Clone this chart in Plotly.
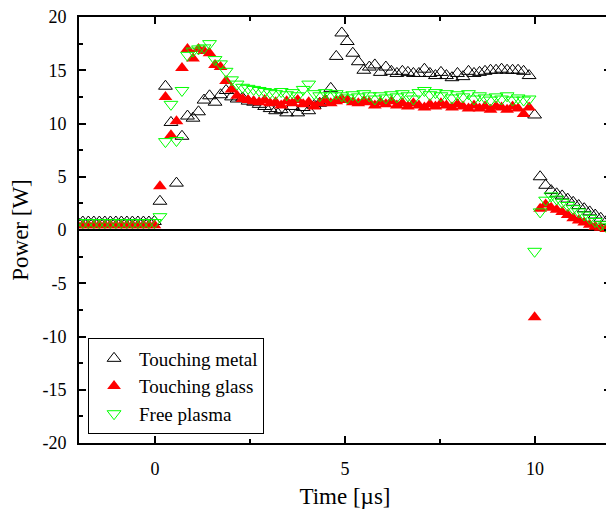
import plotly.graph_objects as go

# Time axis [µs]
time_us = [-2.045, -1.90, -1.755, -1.61, -1.465, -1.32, -1.175, -1.03, -0.885, -0.74,
           -0.595, -0.45, -0.305, -0.16, -0.015,
           0.13, 0.275, 0.42, 0.565, 0.71, 0.855, 1.00, 1.145, 1.29, 1.435,
           1.58, 1.725, 1.87, 2.015, 2.16, 2.305, 2.45, 2.595, 2.74, 2.885,
           3.03, 3.175, 3.32, 3.465, 3.61, 3.755, 3.90, 4.045, 4.19, 4.335,
           4.48, 4.625, 4.77, 4.915, 5.06, 5.205, 5.35, 5.495, 5.64, 5.785,
           5.93, 6.075, 6.22, 6.365, 6.51, 6.655, 6.80, 6.945, 7.09, 7.235,
           7.38, 7.525, 7.67, 7.815, 7.96, 8.105, 8.25, 8.395, 8.54, 8.685,
           8.83, 8.975, 9.12, 9.265, 9.41, 9.555, 9.70, 9.845, 9.99, 10.135,
           10.28, 10.425, 10.57, 10.715, 10.86, 11.005, 11.15, 11.295, 11.44, 11.585,
           11.73, 11.875]

touching_metal = [0.75, 0.75, 0.75, 0.75, 0.75, 0.75, 0.75, 0.75, 0.75, 0.75,
                  0.75, 0.75, 0.75, 0.75, 0.8,
                  2.7, 13.5, 10.1, 4.4, 8.8, 10.7, 10.5, 11.1, 12.2, 12.6,
                  12.0, 12.7, 13.1, 12.5, 12.3, 12.4, 12.1, 12.0, 11.8, 11.6,
                  11.4, 11.2, 11.3, 11.0, 11.6, 11.0, 11.5, 11.2, 11.7, 11.9,
                  12.2, 13.3, 16.3, 18.5, 17.7, 16.6, 15.8, 15.0, 15.3, 15.5,
                  14.8, 15.3, 14.9, 14.7, 14.9, 14.8, 14.7, 14.7, 15.1, 14.7,
                  14.5, 14.8, 14.5, 14.3, 14.7, 14.4, 14.9, 14.7, 14.8, 14.9,
                  15.0, 15.0, 15.1, 15.0, 15.0, 15.0, 14.9, 14.5, 10.8, 5.0,
                  4.2, 3.7, 3.4, 3.2, 2.9, 2.6, 2.3, 2.0, 1.7, 1.4,
                  1.1, 0.8]

touching_glass = [0.45, 0.45, 0.45, 0.45, 0.45, 0.45, 0.45, 0.45, 0.45, 0.45,
                  0.45, 0.45, 0.45, 0.45, 0.45,
                  4.1, 12.5, 8.9, 10.2, 15.2, 17.0, 16.1, 17.0, 16.8, 16.6,
                  15.5, 15.3, 14.0, 13.2, 12.6, 12.3, 12.2, 12.1, 12.0, 12.2,
                  11.9, 12.0, 11.7, 12.1, 11.9, 12.2, 11.8, 12.0, 11.6, 11.9,
                  12.2, 11.9, 12.1, 12.3, 12.2, 12.0, 11.9, 12.1, 12.0, 11.7,
                  12.0, 11.8, 12.1, 11.7, 11.9, 11.6, 11.9, 11.7, 11.5, 11.8,
                  11.6, 11.9, 11.7, 11.5, 11.8, 11.6, 11.4, 11.7, 11.4, 11.6,
                  11.3, 11.6, 11.5, 11.3, 11.6, 11.4, 10.9, 11.5, -8.2, 2.0,
                  2.4, 2.1, 1.9, 1.7, 1.4, 1.1, 0.9, 0.7, 0.5, 0.3,
                  0.2, 0.1]

free_plasma = [0.7, 0.7, 0.7, 0.7, 0.7, 0.7, 0.7, 0.7, 0.7, 0.7,
               0.7, 0.7, 0.7, 0.7, 0.7,
               1.25, 8.3, 11.8, 8.4, 13.1, 16.4, 16.8, 17.0, 17.1, 17.5,
               16.0, 15.6, 14.9, 14.1, 13.7, 13.4, 13.3, 13.2, 13.1, 13.0,
               12.9, 12.8, 13.0, 12.7, 12.9, 12.6, 13.2, 13.7, 12.8, 12.6,
               12.9, 12.6, 12.8, 12.6, 12.4, 12.7, 12.5, 12.8, 12.6, 12.3,
               12.6, 12.4, 12.7, 12.5, 12.8, 12.6, 12.3, 12.9, 13.1, 12.7,
               12.9, 12.6, 12.8, 12.4, 12.7, 12.5, 12.8, 12.3, 12.6, 12.4,
               12.2, 12.5, 12.3, 12.6, 12.2, 12.4, 12.2, 12.3, -2.0, 1.7,
               2.8, 3.2, 2.9, 2.6, 2.3, 2.0, 1.7, 1.4, 1.1, 0.8,
               0.5, 0.3]

series_names = ["Touching metal", "Touching glass", "Free plasma"]
x_ticks = [0, 5, 10]
x_tick_labels = ["0", "5", "10"]
y_ticks = [-20, -15, -10, -5, 0, 5, 10, 15, 20]
y_tick_labels = ["-20", "-15", "-10", "-5", "0", "5", "10", "15", "20"]

FONT = "Liberation Serif"

fig = go.Figure()
fig.add_trace(go.Scatter(
    x=time_us, y=touching_metal, mode="markers", name=series_names[0],
    marker=dict(symbol="triangle-up-open", size=12, color="black", line=dict(width=1))))
fig.add_trace(go.Scatter(
    x=time_us, y=touching_glass, mode="markers", name=series_names[1],
    marker=dict(symbol="triangle-up", size=12, color="#ff0000", line=dict(width=0))))
fig.add_trace(go.Scatter(
    x=time_us, y=free_plasma, mode="markers", name=series_names[2],
    marker=dict(symbol="triangle-down-open", size=12, color="#00ff00", line=dict(width=1))))

axis_common = dict(
    showline=True, linecolor="black", linewidth=2, mirror="allticks",
    ticks="inside", ticklen=7, tickwidth=1.5, tickcolor="black",
    showgrid=False, automargin=False, ticklabeloverflow="allow",
    tickfont=dict(family=FONT, size=18, color="black"),
)

fig.update_xaxes(
    range=[-2, 12], tickvals=x_ticks, ticktext=x_tick_labels, zeroline=False, ticklabelstandoff=8,
    minor=dict(ticks="inside", ticklen=4, tickwidth=1.5, dtick=2.5, tick0=0, showgrid=False, tickcolor="black"),
    title=dict(text="Time [µs]", font=dict(family=FONT, size=23, color="black"), standoff=10),
    **axis_common)
fig.update_yaxes(
    range=[-20, 20], tickvals=y_ticks, ticktext=y_tick_labels, ticklabelstandoff=7,
    zeroline=True, zerolinecolor="black", zerolinewidth=2,
    minor=dict(ticks="inside", ticklen=4, tickwidth=1.5, dtick=2.5, tick0=0, showgrid=False, tickcolor="black"),
    title=dict(text="Power [W]", font=dict(family=FONT, size=23, color="black"), standoff=8),
    **axis_common)

# page body has an 8px margin: shrink the figure so the plot area lands where the reference has it
fig.update_layout(
    width=606, height=503,
    margin=dict(l=71, r=3, t=9, b=68),
    plot_bgcolor="white", paper_bgcolor="white",
    font=dict(family=FONT, color="black"),
    legend=dict(
        x=0.017, y=0.02, xanchor="left", yanchor="bottom",
        bordercolor="black", borderwidth=1, bgcolor="white",
        font=dict(family=FONT, size=19, color="black"),
        tracegroupgap=0, itemwidth=40,
    ),
)

fig.write_html("out.html")
